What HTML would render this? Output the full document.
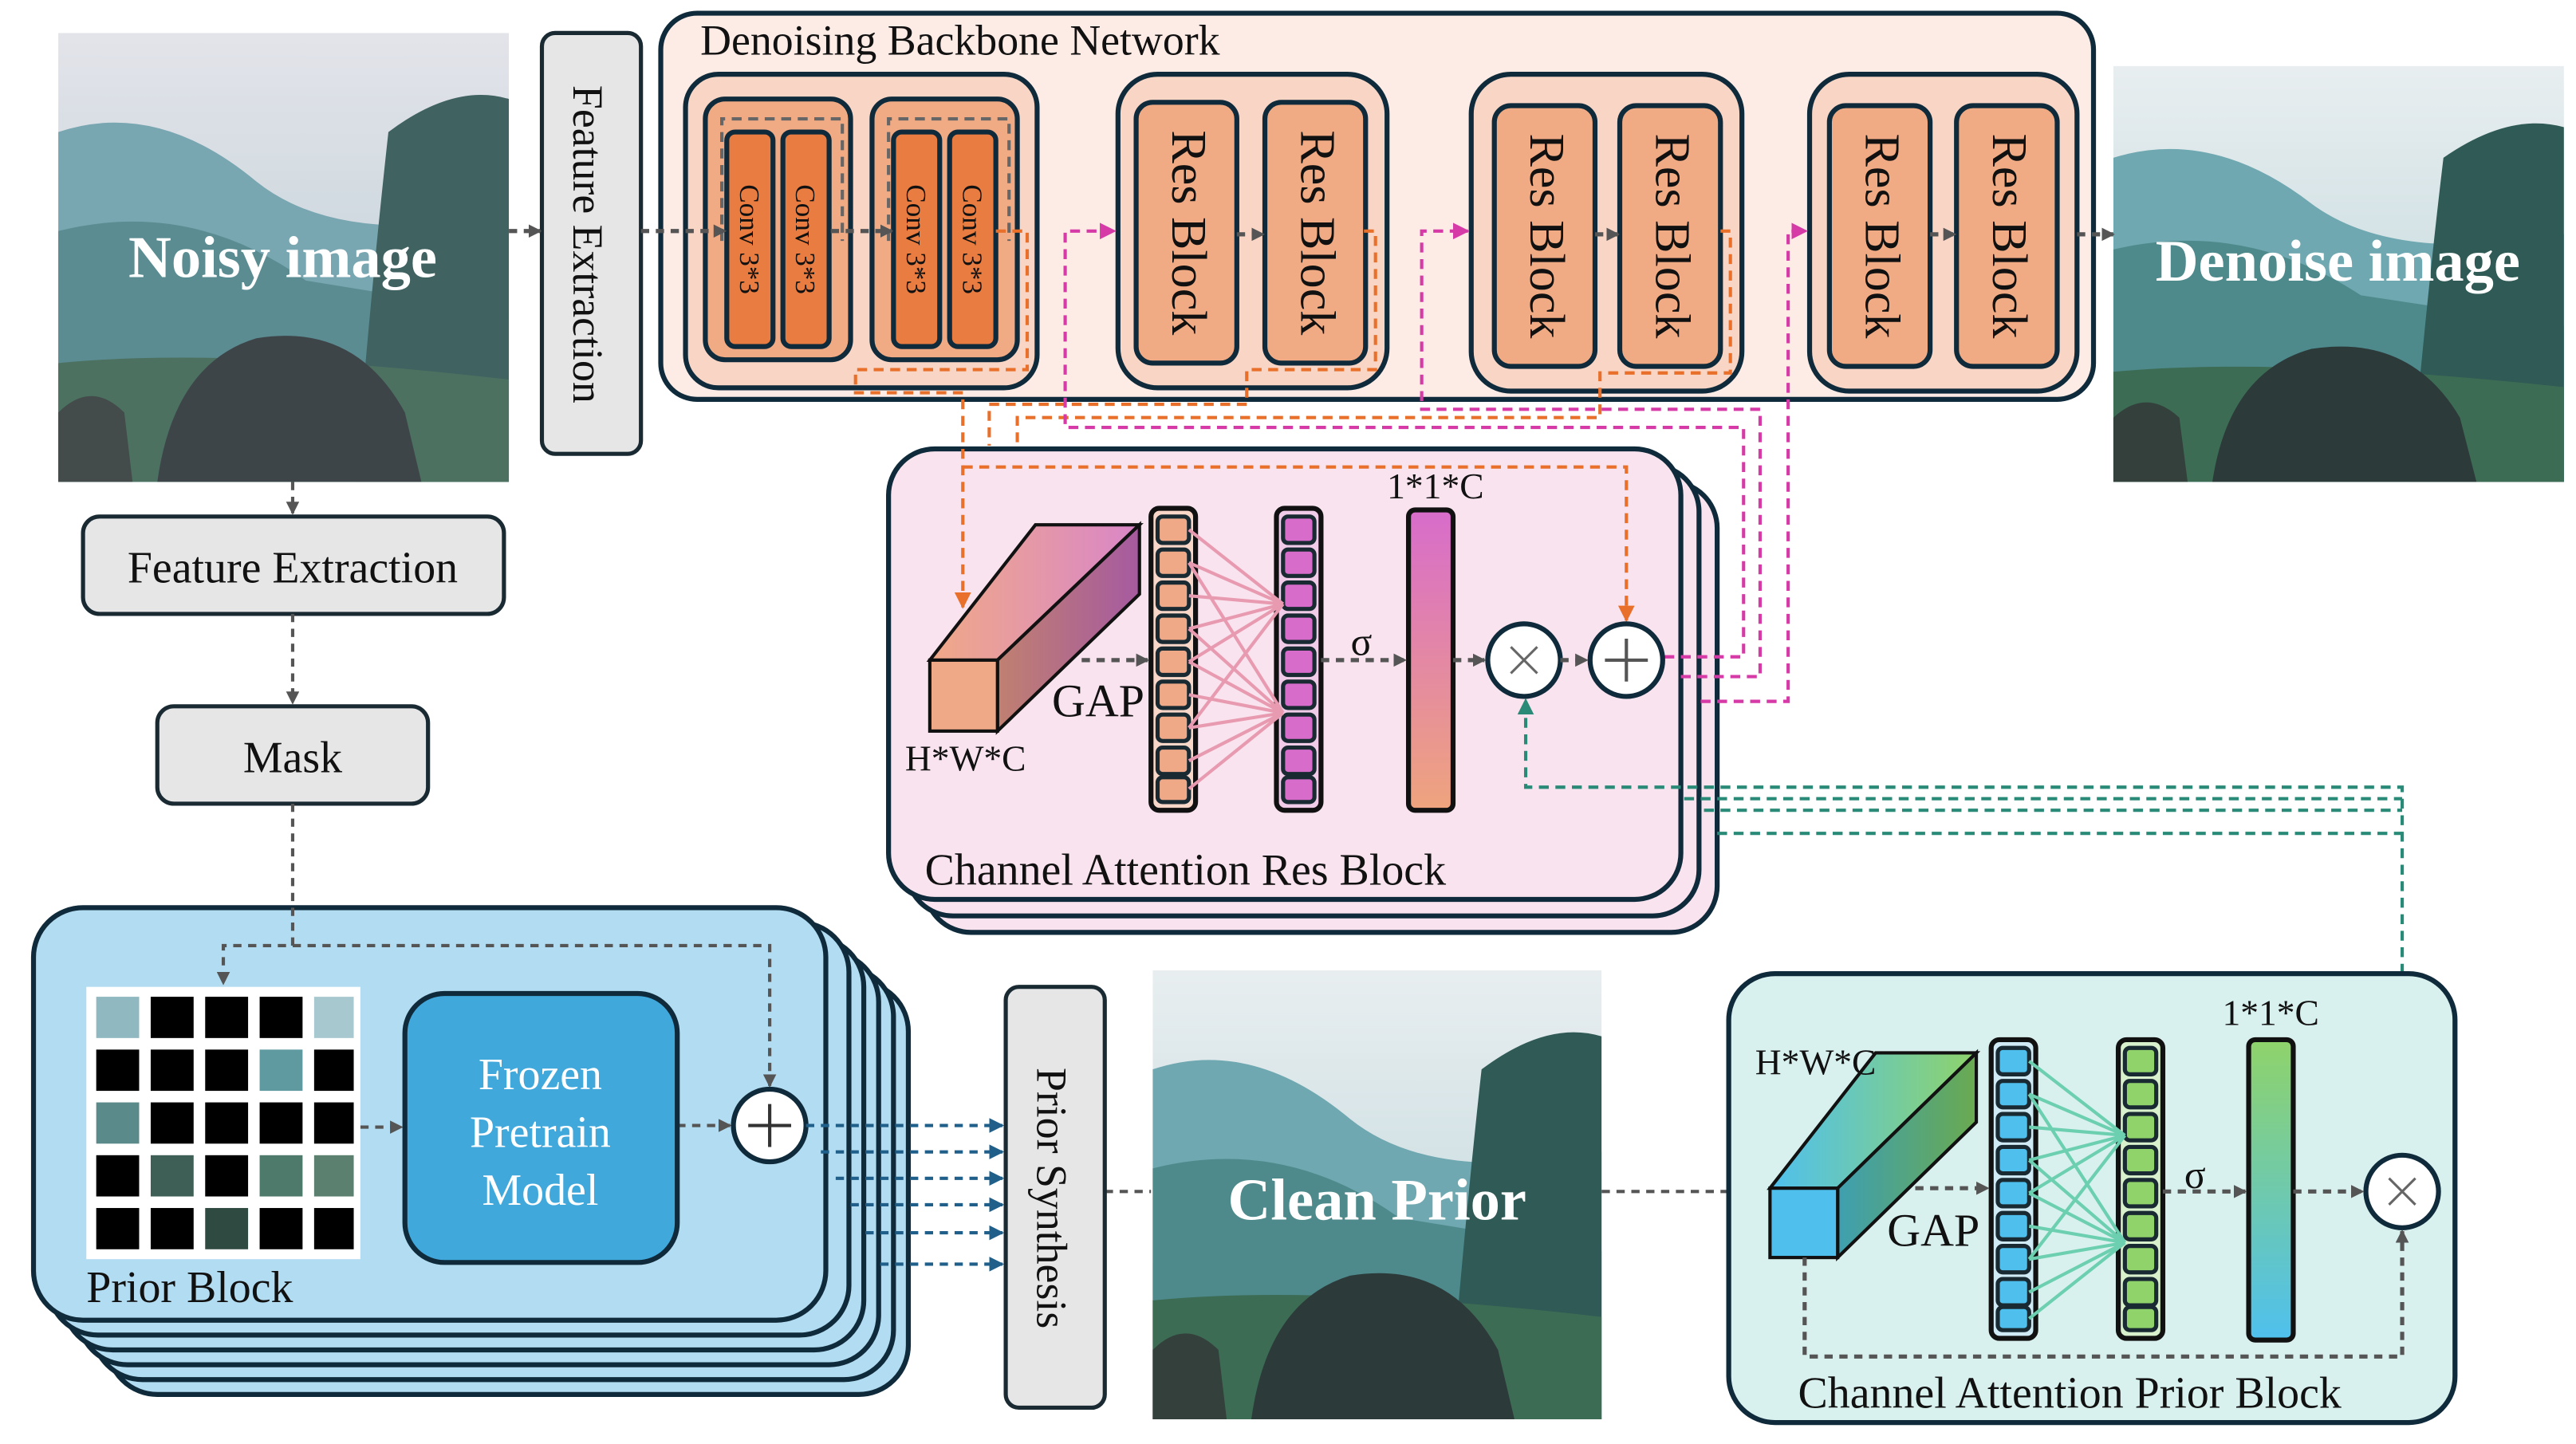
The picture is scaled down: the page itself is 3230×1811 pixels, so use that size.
<!DOCTYPE html>
<html><head><meta charset="utf-8"><style>
html,body{margin:0;padding:0;background:#fff}
svg{display:block}
text{font-family:"Liberation Serif",serif;fill:#111}
</style></head><body>
<svg width="3230" height="1811" viewBox="0 0 1560 875" xmlns="http://www.w3.org/2000/svg">
<defs>
<marker id="ag" markerWidth="8" markerHeight="8" refX="7" refY="4" orient="auto" markerUnits="userSpaceOnUse"><path d="M0,0L8,4L0,8z" fill="#555"/></marker>
<marker id="ao" markerWidth="10" markerHeight="10" refX="9" refY="5" orient="auto" markerUnits="userSpaceOnUse"><path d="M0,0L10,5L0,10z" fill="#e8702a"/></marker>
<marker id="am" markerWidth="10" markerHeight="10" refX="9" refY="5" orient="auto" markerUnits="userSpaceOnUse"><path d="M0,0L10,5L0,10z" fill="#d63aa6"/></marker>
<marker id="at" markerWidth="10" markerHeight="10" refX="9" refY="5" orient="auto" markerUnits="userSpaceOnUse"><path d="M0,0L10,5L0,10z" fill="#2a8a78"/></marker>
<marker id="ab" markerWidth="9" markerHeight="9" refX="8" refY="4.5" orient="auto" markerUnits="userSpaceOnUse"><path d="M0,0L9,4.5L0,9z" fill="#1f5f8a"/></marker>
<linearGradient id="sky" x1="0" y1="0" x2="0" y2="1"><stop offset="0" stop-color="#e8eef0"/><stop offset="1" stop-color="#b9d3d8"/></linearGradient>
<linearGradient id="cubeR" x1="0" y1="0" x2="1" y2="0"><stop offset="0" stop-color="#f0a987"/><stop offset="1" stop-color="#d986c8"/></linearGradient>
<linearGradient id="cubeRs" x1="0" y1="0" x2="1" y2="0"><stop offset="0" stop-color="#c08070"/><stop offset="1" stop-color="#a65aa0"/></linearGradient>
<linearGradient id="barR" x1="0" y1="0" x2="0" y2="1"><stop offset="0" stop-color="#d86ccb"/><stop offset="1" stop-color="#efa47d"/></linearGradient>
<linearGradient id="cubeP" x1="0" y1="0" x2="1" y2="0"><stop offset="0" stop-color="#4fc0ee"/><stop offset="1" stop-color="#8fd36a"/></linearGradient>
<linearGradient id="cubePs" x1="0" y1="0" x2="1" y2="0"><stop offset="0" stop-color="#3e9fb0"/><stop offset="1" stop-color="#6aaa50"/></linearGradient>
<linearGradient id="barP" x1="0" y1="0" x2="0" y2="1"><stop offset="0" stop-color="#8fd36a"/><stop offset="1" stop-color="#4fc0ee"/></linearGradient>
<symbol id="land" viewBox="0 0 273 272" preserveAspectRatio="none">
<rect width="273" height="272" fill="url(#sky)"/>
<path d="M0,60 Q60,40 120,90 Q170,130 273,110 L273,272 L0,272z" fill="#6fa8b0"/>
<path d="M0,120 Q80,100 150,150 L273,170 L273,272 L0,272z" fill="#4e8a8c"/>
<path d="M200,60 Q240,30 273,40 L273,272 L180,272 Q190,150 200,60z" fill="#2f5a55"/>
<path d="M0,200 Q100,190 273,210 L273,272 L0,272z" fill="#3d6c55"/>
<path d="M60,272 Q70,200 120,185 Q180,175 210,230 L220,272z" fill="#2d3a3a"/>
<path d="M0,230 Q20,210 40,230 L45,272 L0,272z" fill="#33403c"/>
</symbol>
</defs>

<use href="#land" x="35" y="20" width="273" height="272"/>
<rect x="35" y="20" width="273" height="272" fill="#c0a0c0" opacity="0.12"/>
<text x="171" y="168" text-anchor="middle" font-size="36" font-weight="bold" style="fill:#fff">Noisy image</text>
<use href="#land" x="1280" y="40" width="273" height="252"/>
<text x="1416" y="170" text-anchor="middle" font-size="36" font-weight="bold" style="fill:#fff">Denoise image</text>
<use href="#land" x="698" y="588" width="272" height="272"/>
<text x="834" y="739" text-anchor="middle" font-size="36" font-weight="bold" style="fill:#fff">Clean Prior</text>

<rect x="328" y="20" width="60" height="255" rx="8" fill="#e6e6e6" stroke="#1a2a33" stroke-width="2.5"/>
<text transform="translate(347,148) rotate(90)" text-anchor="middle" font-size="26">Feature Extraction</text>

<rect x="400" y="8" width="868" height="234" rx="22" fill="#fdebe5" stroke="#0f2a3a" stroke-width="3"/>
<text x="424" y="33" font-size="26">Denoising Backbone Network</text>
<g stroke="#0f2a3a" stroke-width="3">
<rect x="415" y="45" width="213" height="190" rx="20" fill="#f8d5c5"/>
<rect x="427" y="60" width="88" height="158" rx="12" fill="#f1ab84"/>
<rect x="528" y="60" width="88" height="158" rx="12" fill="#f1ab84"/>
<rect x="440" y="80" width="28" height="130" rx="5" fill="#e97c40"/>
<rect x="474" y="80" width="28" height="130" rx="5" fill="#e97c40"/>
<rect x="541" y="80" width="28" height="130" rx="5" fill="#e97c40"/>
<rect x="575" y="80" width="28" height="130" rx="5" fill="#e97c40"/>
<rect x="677" y="45" width="163" height="190" rx="24" fill="#f8d5c5"/>
<rect x="688" y="62" width="61" height="158" rx="10" fill="#f1ab84"/>
<rect x="766" y="62" width="61" height="158" rx="10" fill="#f1ab84"/>
<rect x="891" y="45" width="164" height="192" rx="24" fill="#f8d5c5"/>
<rect x="905" y="64" width="61" height="158" rx="10" fill="#f1ab84"/>
<rect x="981" y="64" width="61" height="158" rx="10" fill="#f1ab84"/>
<rect x="1096" y="45" width="162" height="192" rx="24" fill="#f8d5c5"/>
<rect x="1108" y="64" width="61" height="158" rx="10" fill="#f1ab84"/>
<rect x="1185" y="64" width="61" height="158" rx="10" fill="#f1ab84"/>
</g>
<g fill="none" stroke="#666" stroke-width="2" stroke-dasharray="6,4">
<path d="M437,146 V72 H510 V146"/><path d="M538,146 V72 H611 V146"/>
</g>
<g font-size="17">
<text transform="translate(448,145) rotate(90)" text-anchor="middle">Conv  3*3</text>
<text transform="translate(482,145) rotate(90)" text-anchor="middle">Conv  3*3</text>
<text transform="translate(549,145) rotate(90)" text-anchor="middle">Conv  3*3</text>
<text transform="translate(583,145) rotate(90)" text-anchor="middle">Conv  3*3</text>
</g>
<g font-size="30">
<text transform="translate(710,141) rotate(90)" text-anchor="middle">Res Block</text>
<text transform="translate(788,141) rotate(90)" text-anchor="middle">Res Block</text>
<text transform="translate(927,143) rotate(90)" text-anchor="middle">Res Block</text>
<text transform="translate(1003,143) rotate(90)" text-anchor="middle">Res Block</text>
<text transform="translate(1130,143) rotate(90)" text-anchor="middle">Res Block</text>
<text transform="translate(1207,143) rotate(90)" text-anchor="middle">Res Block</text>
</g>
<g stroke="#555" stroke-width="2.5" stroke-dasharray="5,4" fill="none" marker-end="url(#ag)">
<path d="M308,140 H327"/><path d="M388,140 H439"/><path d="M503,140 H540"/>
<path d="M749,142 H765"/><path d="M966,142 H980"/><path d="M1169,142 H1184"/><path d="M1258,142 H1280"/>
</g>

<g stroke="#0f2a3a" stroke-width="3" fill="#f9e3ee">
<rect x="560" y="292" width="480" height="273" rx="28"/>
<rect x="549" y="282" width="480" height="273" rx="28"/>
<rect x="538" y="272" width="480" height="273" rx="28"/>
</g>

<g fill="none" stroke-width="2" stroke-dasharray="6,4">
<path d="M603,140 H622 V224 H518 V238 H583 V368" stroke="#e8702a" marker-end="url(#ao)"/>
<path d="M583,283 H985 V376" stroke="#e8702a" marker-end="url(#ao)"/>
<path d="M826,140 H833 V224 H755 V245 H599 V270" stroke="#e8702a"/>
<path d="M1042,140 H1048 V226 H969 V253 H616 V270" stroke="#e8702a"/>
<path d="M1008,398 H1056 V259 H645 V140 H675" stroke="#d63aa6" marker-end="url(#am)"/>
<path d="M1018,410 H1066 V248 H861 V140 H889" stroke="#d63aa6" marker-end="url(#am)"/>
<path d="M1030,425 H1083 V140 H1094" stroke="#d63aa6" marker-end="url(#am)"/>
<path d="M1455,700 V477 H924 V424" stroke="#2a8a78" marker-end="url(#at)"/>
<path d="M1020,484 H1455 M1032,491 H1455 M1040,505 H1455" stroke="#2a8a78"/>
</g>

<!-- cube res -->
<path d="M563,400 L627,318 L690,318 L604,400z" fill="url(#cubeR)" stroke="#111" stroke-width="2"/>
<path d="M604,400 L690,318 L690,360 L604,443z" fill="url(#cubeRs)" stroke="#111" stroke-width="2"/>
<rect x="563" y="400" width="41" height="43" fill="#f0a987" stroke="#111" stroke-width="2"/>
<rect x="697" y="308" width="27" height="183" rx="5" fill="#f8d7c8" stroke="#111" stroke-width="3"/>
<rect x="773" y="308" width="27" height="183" rx="5" fill="#f0cce8" stroke="#111" stroke-width="3"/>
<g stroke="#1a2a33" stroke-width="2.5">
<rect x="701" y="313" width="19" height="16" rx="3" fill="#f0a987"/><rect x="701" y="333" width="19" height="16" rx="3" fill="#f0a987"/><rect x="701" y="353" width="19" height="16" rx="3" fill="#f0a987"/><rect x="701" y="373" width="19" height="16" rx="3" fill="#f0a987"/><rect x="701" y="393" width="19" height="16" rx="3" fill="#f0a987"/><rect x="701" y="413" width="19" height="16" rx="3" fill="#f0a987"/><rect x="701" y="433" width="19" height="16" rx="3" fill="#f0a987"/><rect x="701" y="453" width="19" height="16" rx="3" fill="#f0a987"/><rect x="701" y="471" width="19" height="15" rx="3" fill="#f0a987"/>
<rect x="777" y="313" width="19" height="16" rx="3" fill="#d86ccb"/><rect x="777" y="333" width="19" height="16" rx="3" fill="#d86ccb"/><rect x="777" y="353" width="19" height="16" rx="3" fill="#d86ccb"/><rect x="777" y="373" width="19" height="16" rx="3" fill="#d86ccb"/><rect x="777" y="393" width="19" height="16" rx="3" fill="#d86ccb"/><rect x="777" y="413" width="19" height="16" rx="3" fill="#d86ccb"/><rect x="777" y="433" width="19" height="16" rx="3" fill="#d86ccb"/><rect x="777" y="453" width="19" height="16" rx="3" fill="#d86ccb"/><rect x="777" y="471" width="19" height="15" rx="3" fill="#d86ccb"/>
</g>
<g stroke="#e89ab0" stroke-width="2">
<path d="M720,321 L777,366 M720,341 L777,366 M720,361 L777,366 M720,381 L777,366 M720,401 L777,366 M720,381 L777,432 M720,401 L777,432 M720,421 L777,432 M720,441 L777,432 M720,461 L777,432 M720,478 L777,432 M720,341 L777,432 M720,441 L777,366"/>
</g>
<rect x="853" y="309" width="27" height="182" rx="4" fill="url(#barR)" stroke="#111" stroke-width="3"/>
<circle cx="923" cy="400" r="22" fill="#fff" stroke="#0f2a3a" stroke-width="3"/>
<path d="M915,392 L931,408 M931,392 L915,408" stroke="#666" stroke-width="1.5"/>
<circle cx="985" cy="400" r="22" fill="#fff" stroke="#0f2a3a" stroke-width="3"/>
<path d="M972,400 H998 M985,387 V413" stroke="#555" stroke-width="2"/>
<g stroke="#555" stroke-width="2.5" stroke-dasharray="5,4" fill="none" marker-end="url(#ag)">
<path d="M655,400 H695"/><path d="M800,400 H851"/><path d="M880,400 H899"/><path d="M945,400 H961"/>
</g>
<text x="637" y="434" font-size="28">GAP</text>
<text x="548" y="467" font-size="22">H*W*C</text>
<text x="818" y="397" font-size="24">σ</text>
<text x="840" y="302" font-size="22">1*1*C</text>
<text x="560" y="536" font-size="27">Channel Attention Res Block</text>

<rect x="50" y="313" width="255" height="59" rx="10" fill="#e6e6e6" stroke="#1a2a33" stroke-width="2.5"/>
<text x="177" y="353" text-anchor="middle" font-size="27">Feature Extraction</text>
<rect x="95" y="428" width="164" height="59" rx="10" fill="#e6e6e6" stroke="#1a2a33" stroke-width="2.5"/>
<text x="177" y="468" text-anchor="middle" font-size="27">Mask</text>

<g stroke="#0f2a3a" stroke-width="3" fill="#b2dcf1">
<rect x="65" y="595" width="485" height="250" rx="30"/>
<rect x="56" y="586" width="485" height="250" rx="30"/>
<rect x="47" y="577" width="485" height="250" rx="30"/>
<rect x="38" y="568" width="485" height="250" rx="30"/>
<rect x="29" y="559" width="485" height="250" rx="30"/>
<rect x="20" y="550" width="480" height="250" rx="30"/>
</g>
<g fill="none" stroke="#555" stroke-width="2" stroke-dasharray="5,4">
<path d="M177,372 V426" marker-end="url(#ag)"/>
<path d="M177,292 V311" marker-end="url(#ag)"/>
<path d="M177,487 V573 H135 V596" marker-end="url(#ag)"/>
<path d="M177,573 H466 V658" marker-end="url(#ag)"/>
<path d="M218,683 H243" marker-end="url(#ag)"/>
<path d="M410,682 H442" marker-end="url(#ag)"/>
<path d="M669,722 H697"/>
<path d="M970,722 H1068" marker-end="url(#ag)"/>
</g>
<rect x="52" y="598" width="166" height="165" fill="#fff"/>
<g fill="#000">
<rect x="58" y="604" width="26" height="25" fill="#8fb8c0"/><rect x="91" y="604" width="26" height="25"/><rect x="124" y="604" width="26" height="25"/><rect x="157" y="604" width="26" height="25"/><rect x="190" y="604" width="24" height="25" fill="#a8c8d0"/>
<rect x="58" y="636" width="26" height="25"/><rect x="91" y="636" width="26" height="25"/><rect x="124" y="636" width="26" height="25"/><rect x="157" y="636" width="26" height="25" fill="#5f9aa0"/><rect x="190" y="636" width="24" height="25"/>
<rect x="58" y="668" width="26" height="25" fill="#5a8a8a"/><rect x="91" y="668" width="26" height="25"/><rect x="124" y="668" width="26" height="25"/><rect x="157" y="668" width="26" height="25"/><rect x="190" y="668" width="24" height="25"/>
<rect x="58" y="700" width="26" height="25"/><rect x="91" y="700" width="26" height="25" fill="#3e5f55"/><rect x="124" y="700" width="26" height="25"/><rect x="157" y="700" width="26" height="25" fill="#4d7a6a"/><rect x="190" y="700" width="24" height="25" fill="#5b8070"/>
<rect x="58" y="732" width="26" height="25"/><rect x="91" y="732" width="26" height="25"/><rect x="124" y="732" width="26" height="25" fill="#2f4a40"/><rect x="157" y="732" width="26" height="25"/><rect x="190" y="732" width="24" height="25"/>
</g>
<rect x="245" y="602" width="165" height="163" rx="24" fill="#41a8dc" stroke="#0f2a3a" stroke-width="3"/>
<g font-size="27" text-anchor="middle"><text x="327" y="660" style="fill:#fff">Frozen</text><text x="327" y="695" style="fill:#fff">Pretrain</text><text x="327" y="730" style="fill:#fff">Model</text></g>
<circle cx="466" cy="682" r="22" fill="#fff" stroke="#0f2a3a" stroke-width="3"/>
<path d="M453,682 H479 M466,669 V695" stroke="#333" stroke-width="2"/>
<text x="52" y="789" font-size="27">Prior Block</text>
<g stroke="#1f5f8a" stroke-width="2" stroke-dasharray="5,4" marker-end="url(#ab)">
<path d="M488,682 H607"/><path d="M497,698 H607"/><path d="M506,714 H607"/><path d="M515,730 H607"/><path d="M524,747 H607"/><path d="M533,766 H607"/>
</g>
<rect x="609" y="598" width="60" height="255" rx="8" fill="#e6e6e6" stroke="#1a2a33" stroke-width="2.5"/>
<text transform="translate(628,726) rotate(90)" text-anchor="middle" font-size="26">Prior Synthesis</text>

<rect x="1047" y="590" width="440" height="272" rx="28" fill="#d9f1ee" stroke="#0f2a3a" stroke-width="3"/>
<path d="M1072,720 L1136,638 L1197,638 L1113,720z" fill="url(#cubeP)" stroke="#111" stroke-width="2"/>
<path d="M1113,720 L1197,638 L1197,680 L1113,762z" fill="url(#cubePs)" stroke="#111" stroke-width="2"/>
<rect x="1072" y="720" width="41" height="42" fill="#4fc0ee" stroke="#111" stroke-width="2"/>
<rect x="1206" y="630" width="27" height="181" rx="5" fill="#cfeaf5" stroke="#111" stroke-width="3"/>
<rect x="1283" y="630" width="27" height="181" rx="5" fill="#d8f0cc" stroke="#111" stroke-width="3"/>
<g stroke="#1a2a33" stroke-width="2.5">
<rect x="1210" y="635" width="19" height="16" rx="3" fill="#4fc0ee"/><rect x="1210" y="655" width="19" height="16" rx="3" fill="#4fc0ee"/><rect x="1210" y="675" width="19" height="16" rx="3" fill="#4fc0ee"/><rect x="1210" y="695" width="19" height="16" rx="3" fill="#4fc0ee"/><rect x="1210" y="715" width="19" height="16" rx="3" fill="#4fc0ee"/><rect x="1210" y="735" width="19" height="16" rx="3" fill="#4fc0ee"/><rect x="1210" y="755" width="19" height="16" rx="3" fill="#4fc0ee"/><rect x="1210" y="775" width="19" height="16" rx="3" fill="#4fc0ee"/><rect x="1210" y="792" width="19" height="14" rx="3" fill="#4fc0ee"/>
<rect x="1287" y="635" width="19" height="16" rx="3" fill="#8fd36a"/><rect x="1287" y="655" width="19" height="16" rx="3" fill="#8fd36a"/><rect x="1287" y="675" width="19" height="16" rx="3" fill="#8fd36a"/><rect x="1287" y="695" width="19" height="16" rx="3" fill="#8fd36a"/><rect x="1287" y="715" width="19" height="16" rx="3" fill="#8fd36a"/><rect x="1287" y="735" width="19" height="16" rx="3" fill="#8fd36a"/><rect x="1287" y="755" width="19" height="16" rx="3" fill="#8fd36a"/><rect x="1287" y="775" width="19" height="16" rx="3" fill="#8fd36a"/><rect x="1287" y="792" width="19" height="14" rx="3" fill="#8fd36a"/>
</g>
<g stroke="#6ccfb0" stroke-width="2">
<path d="M1229,643 L1287,688 M1229,663 L1287,688 M1229,683 L1287,688 M1229,703 L1287,688 M1229,723 L1287,688 M1229,703 L1287,753 M1229,723 L1287,753 M1229,743 L1287,753 M1229,763 L1287,753 M1229,783 L1287,753 M1229,799 L1287,753 M1229,663 L1287,753 M1229,763 L1287,688"/>
</g>
<rect x="1362" y="630" width="27" height="182" rx="4" fill="url(#barP)" stroke="#111" stroke-width="3"/>
<circle cx="1455" cy="722" r="22" fill="#fff" stroke="#0f2a3a" stroke-width="3"/>
<path d="M1447,714 L1463,730 M1463,714 L1447,730" stroke="#666" stroke-width="1.5"/>
<g stroke="#555" stroke-width="2.5" stroke-dasharray="5,4" fill="none">
<path d="M1160,720 H1204" marker-end="url(#ag)"/><path d="M1310,722 H1360" marker-end="url(#ag)"/><path d="M1389,722 H1431" marker-end="url(#ag)"/>
<path d="M1093,762 V822 H1455 V746" marker-end="url(#ag)"/>
</g>
<text x="1143" y="755" font-size="28">GAP</text>
<text x="1063" y="651" font-size="22">H*W*C</text>
<text x="1323" y="720" font-size="24">σ</text>
<text x="1346" y="621" font-size="22">1*1*C</text>
<text x="1089" y="853" font-size="27">Channel Attention Prior Block</text>
</svg>
</body></html>
